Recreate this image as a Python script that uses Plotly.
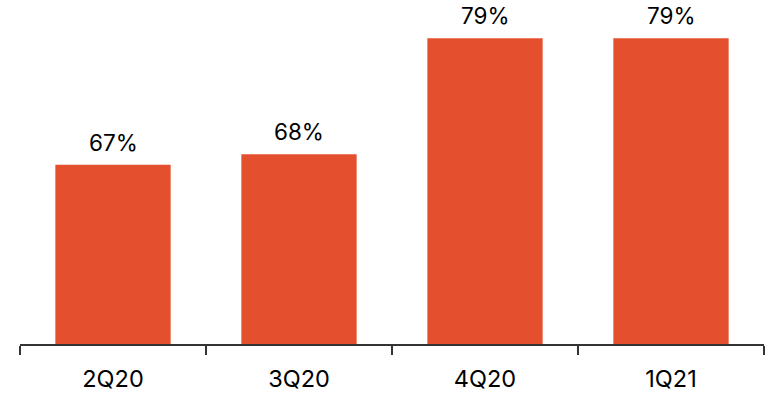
import plotly.graph_objects as go

categories = ["2Q20", "3Q20", "4Q20", "1Q21"]
values = [67, 68, 79, 79]
labels = ["67%", "68%", "79%", "79%"]

BAR_COLOR = "#E4502E"
FONT = "Inter, Roboto, Liberation Sans, sans-serif"

fig = go.Figure(go.Bar(
    x=categories, y=values, marker_color=BAR_COLOR, marker_line_width=0,
    hoverinfo="skip",
))

for c, v, t in zip(categories, values, labels):
    fig.add_annotation(x=c, y=v, text=t, showarrow=False, yanchor="bottom",
                       yshift=7, font=dict(size=22.5, color="#000000", family=FONT))

fig.update_layout(
    width=766, height=394,
    margin=dict(l=20, r=2, t=0, b=50),
    plot_bgcolor="white", paper_bgcolor="white",
    bargap=0.38, showlegend=False,
    font=dict(family=FONT, size=22, color="#000000"),
)
fig.update_xaxes(
    showline=True, linecolor="#333333", linewidth=1.5,
    ticks="outside", tickson="boundaries", ticklen=9, tickwidth=1.5, tickcolor="#333333",
    tickfont=dict(size=23.5, color="#000000", family=FONT), showgrid=False,
    ticklabelstandoff=13,
)
fig.update_yaxes(range=[50, 82.62], visible=False, showgrid=False)

fig.write_html("out.html")
